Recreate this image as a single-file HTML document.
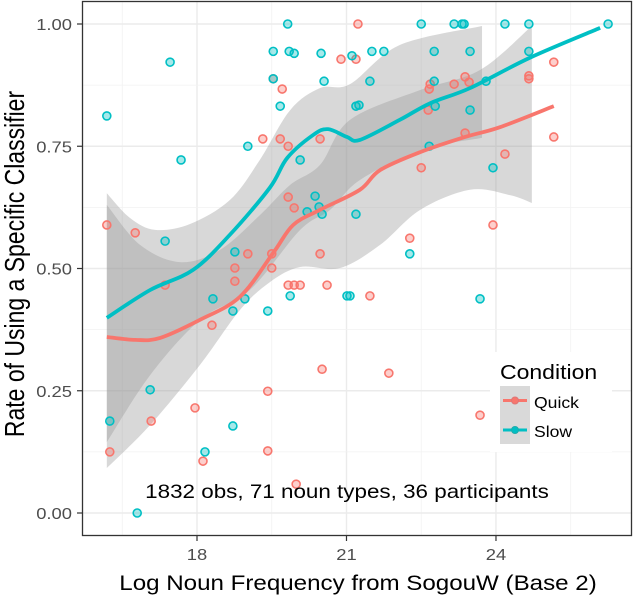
<!DOCTYPE html>
<html><head><meta charset="utf-8"><style>
body{margin:0;background:#fff}
svg text{font-family:"Liberation Sans",sans-serif}
</style></head><body>
<svg id="chart" width="634" height="598" xmlns="http://www.w3.org/2000/svg">
<rect x="0" y="0" width="634" height="598" fill="#fff"/>
<g id="grid"></g>
<g id="ribbons"></g>
<g id="points"></g>
<g id="lines"></g>
<rect x="82.5" y="1.5" width="549" height="534" fill="none" stroke="#333" stroke-width="1.3"/>
<g id="axes"></g>
<text transform="translate(347,498) scale(1.15,1)" font-size="19.5" text-anchor="middle" fill="#000">1832 obs, 71 noun types, 36 participants</text>
<text transform="translate(358,590) scale(1.15,1)" font-size="21" text-anchor="middle" fill="#000">Log Noun Frequency from SogouW (Base 2)</text>
<text transform="translate(24,264) scale(1.2,1) rotate(-90)" font-size="23" text-anchor="middle" fill="#000">Rate of Using a Specific Classifier</text>
<g>
<rect x="490" y="352" width="122" height="100" fill="#fff"/>
<text transform="translate(500,379) scale(1.15,1)" font-size="20" fill="#000">Condition</text>
<rect x="500" y="386" width="30" height="29" fill="#d9d9d9"/>
<rect x="500" y="415" width="30" height="29" fill="#d9d9d9"/>
<g><line x1="503" x2="527" y1="400.5" y2="400.5" stroke="#F8766D" stroke-width="3"/><circle cx="515" cy="400.5" r="3.5" fill="#F8766D" stroke="#d77" stroke-width="1"/><text transform="translate(534,408) scale(1.1,1)" font-size="16">Quick</text></g>
<g><line x1="503" x2="527" y1="430" y2="430" stroke="#00BFC4" stroke-width="3"/><circle cx="515" cy="430" r="3.5" fill="#00BFC4" stroke="#2aa" stroke-width="1"/><text transform="translate(534,437) scale(1.1,1)" font-size="16">Slow</text></g>
</g>
</svg>
<script>
const xTicks=[18,21,24];
const xTickLabels=["18","21","24"];
const yTicks=[0,0.25,0.5,0.75,1];
const yTickLabels=["0.00","0.25","0.50","0.75","1.00"];
const slowX=[19.82,19.53,19.85,19.95,20.49,21.11,17.46,19.53,20.55,16.19,19.67,19.02,17.68,20.07,20.37,20.45,20.21,20.51,21.19,21.19,18.76,17.36,22.5,23.16,23.32,23.36,24.18,24.66,26.25,22.76,23.48,21.51,21.75,21.47,22.76,23.8,24.66,21.25,22.78,23.48,22.66,23.94,22.27,18.32,18.96,19.42,18.72,19.87,21.01,16.25,17.06,18.72,18.16,16.8,23.68,21.07];
const slowY=[1.0,0.944,0.944,0.94,0.94,0.935,0.922,0.888,0.883,0.812,0.832,0.75,0.722,0.722,0.648,0.626,0.616,0.611,0.611,0.832,0.534,0.556,1,1,1,1,1,1,1,0.944,0.944,0.944,0.944,0.883,0.883,0.883,0.944,0.834,0.832,0.824,0.75,0.706,0.53,0.438,0.438,0.413,0.413,0.444,0.444,0.188,0.252,0.178,0.125,0.0,0.438,0.444];
const quickX=[21.23,20.89,21.19,19.53,19.71,19.32,19.67,19.83,20.47,19.83,19.95,20.47,16.19,16.76,19.02,18.76,19.5,19.5,25.16,22.68,22.66,23.16,23.38,23.46,24.66,24.66,22.64,23.38,25.16,24.18,22.5,23.94,22.27,18.76,17.36,19.83,19.95,20.07,18.3,20.61,20.51,19.42,17.96,17.08,19.42,18.12,16.25,19.99,21.47,21.85,23.68];
const quickY=[1,0.928,0.928,0.888,0.867,0.765,0.765,0.75,0.765,0.646,0.624,0.53,0.589,0.573,0.53,0.501,0.53,0.501,0.922,0.877,0.867,0.877,0.892,0.881,0.894,0.888,0.824,0.777,0.769,0.734,0.706,0.589,0.562,0.474,0.466,0.466,0.466,0.466,0.384,0.466,0.294,0.249,0.215,0.188,0.127,0.106,0.125,0.059,0.444,0.286,0.2];
const slowLineX=[16.19,17.06,17.92,18.66,19.46,19.81,20.33,20.63,21.01,21.27,22.07,22.68,23.48,24.68,26.09];
const slowLineY=[0.399,0.456,0.497,0.569,0.665,0.726,0.773,0.785,0.769,0.763,0.804,0.838,0.869,0.931,0.992];
const quickLineX=[16.19,16.76,17.26,18.06,18.86,19.53,19.93,20.47,21.27,21.67,22.48,23.38,24.08,25.16];
const quickLineY=[0.36,0.354,0.358,0.395,0.442,0.532,0.589,0.62,0.661,0.701,0.738,0.769,0.789,0.832];
const r1UpX=[16.19,16.66,17.16,17.86,18.66,19.26,19.87,20.47,21.07,22.07,23.72];
const r1UpY=[.654,.603,.579,.591,.64,.722,.824,.869,.877,.957,.996];
const r1LoX=[16.19,17.06,18.06,19.06,20.07,20.67,21.27,22.48,23.72];
const r1LoY=[.145,.282,.395,.456,.579,.62,.681,.742,.767];
const r2UpX=[16.19,16.86,17.66,18.46,19.26,19.87,20.47,21.07,22.48,23.68,24.72];
const r2UpY=[.63,.548,.513,.538,.609,.671,.712,.804,.865,.906,.996];
const r2LoX=[16.19,17.06,18.06,18.86,19.46,20.07,20.87,21.67,22.48,23.48,24.28,24.72];
const r2LoY=[.092,.18,.303,.415,.472,.503,.501,.548,.62,.661,.65,.634];

const NS="http://www.w3.org/2000/svg";
const X=v=>197+(v-18)*49.83;
const Y=v=>513-v*489;
function mk(tag,attrs,parent){const e=document.createElementNS(NS,tag);for(const k in attrs)e.setAttribute(k,attrs[k]);parent.appendChild(e);return e;}
function smooth(xs,ys){const p=xs.map((x,i)=>[X(x),Y(ys[i])]);let d='M'+p[0][0]+','+p[0][1];
for(let i=0;i<p.length-1;i++){const p0=p[i-1]||p[i],p1=p[i],p2=p[i+1],p3=p[i+2]||p2;
d+=' C'+(p1[0]+(p2[0]-p0[0])/6)+','+(p1[1]+(p2[1]-p0[1])/6)+' '+(p2[0]-(p3[0]-p1[0])/6)+','+(p2[1]-(p3[1]-p1[1])/6)+' '+p2[0]+','+p2[1];}return d;}
const grid=document.getElementById('grid');
for(let i=0;i<xTicks.length;i++){const l=mk('line',{x1:X(xTicks[i]),x2:X(xTicks[i]),y1:2,y2:535,stroke:'#ebebeb','stroke-width':1.4},grid);

}
for(const v of [16.5,19.5,22.5,25.5]){const l=mk('line',{x1:X(v),x2:X(v),y1:2,y2:535,stroke:'#f2f2f2','stroke-width':0.8},grid);

}
for(let i=0;i<yTicks.length;i++){const l=mk('line',{x1:83,x2:631,y1:Y(yTicks[i]),y2:Y(yTicks[i]),stroke:'#ebebeb','stroke-width':1.4},grid);

}
for(const v of [0.125,0.375,0.625,0.875]){const l=mk('line',{x1:83,x2:631,y1:Y(v),y2:Y(v),stroke:'#f2f2f2','stroke-width':0.8},grid);

}
const rib=document.getElementById('ribbons');
function ribbon(ux,uy,lx,ly,name){const up=smooth(ux,uy);const lo=smooth(lx.slice().reverse(),ly.slice().reverse());
const d=up+' L'+lo.slice(1)+' Z';
const p=mk('path',{d:d,fill:'#999','fill-opacity':0.38},rib);

}
ribbon(r1UpX,r1UpY,r1LoX,r1LoY,'slow-ribbon');
ribbon(r2UpX,r2UpY,r2LoX,r2LoY,'quick-ribbon');
const pts=document.getElementById('points');
function points(xs,ys,col,name){for(let i=0;i<xs.length;i++){const c=mk('circle',{cx:X(xs[i]),cy:Y(ys[i]),r:4,fill:col,'fill-opacity':0.35,stroke:col,'stroke-width':1.6},pts);

}}
points(quickX,quickY,'#F8766D','quick-point');
points(slowX,slowY,'#00BFC4','slow-point');
const ln=document.getElementById('lines');
function line(xs,ys,col,name){
const p=mk('path',{d:smooth(xs,ys),fill:'none',stroke:col,'stroke-width':3.8,'stroke-linejoin':'round'},ln);

}
line(quickLineX,quickLineY,'#F8766D','quick-smooth-line');
line(slowLineX,slowLineY,'#00BFC4','slow-smooth-line');
const ax=document.getElementById('axes');
for(let i=0;i<xTicks.length;i++){mk('line',{x1:X(xTicks[i]),x2:X(xTicks[i]),y1:536,y2:541,stroke:'#333','stroke-width':1.2},ax);
const t=mk('text',{transform:'translate('+X(xTicks[i])+',560) scale(1.15,1)','font-size':16,'text-anchor':'middle',fill:'#4d4d4d'},ax);t.textContent=xTickLabels[i];

}
for(let i=0;i<yTicks.length;i++){mk('line',{x1:77,x2:82,y1:Y(yTicks[i]),y2:Y(yTicks[i]),stroke:'#333','stroke-width':1.2},ax);
const t=mk('text',{transform:'translate(72,'+(Y(yTicks[i])+6)+') scale(1.15,1)','font-size':16,'text-anchor':'end',fill:'#4d4d4d'},ax);t.textContent=yTickLabels[i];

}
</script>
</body></html>
